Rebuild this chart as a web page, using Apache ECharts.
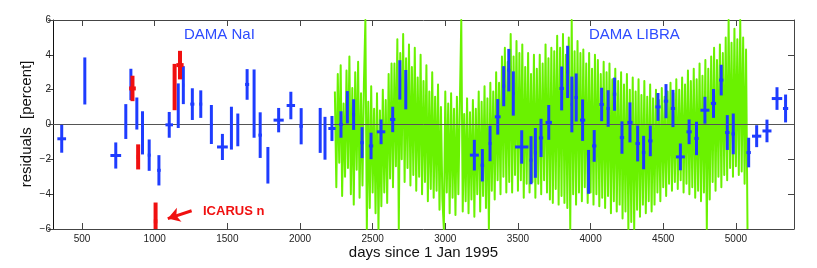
<!DOCTYPE html>
<html><head><meta charset="utf-8">
<script src="https://cdn.jsdelivr.net/npm/echarts@6/dist/echarts.min.js"></script>
<style>html,body{margin:0;padding:0;background:#fff}#c{width:817px;height:268px}</style>
</head><body><div id="c"></div>
<script>
// ---- data ----
const xTickValues = [500,1000,1500,2000,2500,3000,3500,4000,4500,5000];
const yTickValues = [-6,-4,-2,0,2,4,6];

// blue points: day, residual, half error, half time-bin
const blueDays = [360,519,732,801,836,877,916,962,1029,1100,1162,1197,1259,1317,1390,1466,1528,1572,1636,1684,1726,1779,1853,1937,2008,2139,2172,2220,
  2282,2326,2369,2427,2489,2558,2638,2687,2728,3200,3255,3308,3361,3402,3437,3468,3526,3590,3620,3659,3712,3801,3842,3871,3901,3945,3986,4025,4076,4121,4165,4216,4271,4324,4365,4411,4464,4519,4567,4618,4678,4729,4787,4846,4899,4941,4982,5088,5143,5214,5283,5342];
const blueValues = [-0.82,2.50,-1.78,0.17,2.30,0.63,-0.48,-1.76,-2.63,-0.02,1.08,2.26,1.17,1.17,0.00,-1.29,-0.21,-0.31,2.30,1.20,-0.61,-2.34,0.25,1.09,-0.10,-0.34,-0.79,-0.23,
  0.00,0.99,0.57,-1.04,-1.23,-0.42,0.29,2.56,2.00,-1.76,-2.34,-1.09,0.44,2.20,3.12,1.78,-1.29,-2.05,-1.63,-0.77,0.12,2.07,3.02,1.15,1.55,0.25,-2.72,-1.23,1.15,0.92,1.74,-0.75,0.12,-1.09,-1.61,-0.94,1.01,1.34,0.92,-1.86,-0.42,-0.80,0.82,1.21,2.55,-0.46,-0.54,-1.61,-0.67,-0.37,1.49,0.92];
const blueErrors = [0.80,1.35,0.75,1.00,0.90,0.92,1.24,0.90,0.87,0.74,1.28,1.09,0.91,0.79,1.12,0.75,1.23,0.94,0.88,1.96,1.31,1.05,0.70,0.79,1.04,1.29,1.23,0.72,
  0.76,0.93,0.88,0.89,0.76,0.71,0.73,1.13,1.13,0.88,0.93,1.02,1.02,1.15,1.22,1.27,0.96,1.38,1.43,1.10,1.00,1.26,1.50,1.60,1.38,1.19,1.26,0.91,0.96,1.05,0.95,0.93,1.15,1.03,0.96,0.88,0.80,0.98,1.07,0.77,0.71,0.96,0.77,0.83,0.88,1.00,1.17,0.85,0.63,0.65,0.65,0.80];
const blueBins = [30,0,37,0,0,0,0,10,12,26,0,6,14,10,8,37,0,0,14,0,12,6,35,29,12,0,0,25,
  12,0,10,12,15,29,18,0,0,31,12,10,20,10,10,8,46,10,10,15,22,15,10,8,12,18,10,15,15,12,12,15,18,15,12,15,18,15,15,31,18,15,31,18,15,15,12,15,32,31,36,18];

// red points (ICARUS-era data)
const redDays = [847,886,1006,1137,1174];
const redValues = [2.07,-1.86,-5.56,2.15,3.41];
const redErrors = [0.73,0.72,1.08,1.33,0.82];
const redBins = [23,10,12,0,25];

// green: dense residual trace sampled every 10 days from day 2240
const greenStartDay = 2240;
const greenStepDays = 10;
const greenValues = [
  1.9,-3.6,2.9,-2.2,3.4,-4.1,1.2,-3.0,3.1,-2.5,
  3.9,-4.0,2.1,-4.6,3.0,-2.6,3.6,-4.2,1.8,-3.5,
  2.4,6.0,-6.0,1.3,-4.8,2.2,-3.9,0.9,-5.1,1.8,
  -6.0,0.8,-4.7,2.0,-3.9,1.4,-4.5,2.9,-3.1,3.5,
  -3.6,3.5,-2.4,4.9,-6.0,4.1,-2.0,5.2,-3.3,3.8,
  -2.5,4.6,-3.5,3.3,-2.9,4.4,-3.8,2.7,-3.0,4.0,
  -4.0,2.5,-3.3,3.4,-4.4,1.9,-3.7,3.0,-4.2,1.6,
  -3.8,2.3,-4.9,1.0,-4.3,-6.0,1.9,-3.9,1.2,-5.1,
  1.8,-4.2,0.9,-5.2,1.6,-4.0,1.1,6.0,-5.0,0.6,
  -4.4,1.5,-5.1,0.7,-4.3,1.4,-5.3,0.9,-4.0,1.9,
  -5.0,1.3,-4.1,2.2,-4.8,1.5,-6.0,2.4,-3.8,1.9,
  -4.3,3.0,-3.2,2.4,-4.0,3.9,-3.0,4.4,-3.9,3.6,
  -3.3,5.2,-3.9,3.9,-2.9,4.8,-3.8,4.1,-3.2,4.6,
  -4.2,3.3,-3.4,4.1,-3.9,2.9,-3.3,4.0,-4.2,3.2,
  -3.4,4.0,-4.0,3.5,-3.2,4.6,-3.9,3.8,-4.3,4.4,
  -4.5,4.2,-3.7,5.1,-4.6,4.4,-4.1,5.2,-4.5,4.0,
  -4.8,5.0,-6.0,6.0,-4.0,4.2,-4.6,4.8,-3.9,4.1,
  -4.4,4.3,-3.6,3.5,-4.5,4.1,-3.9,3.2,-4.6,4.0,
  -4.0,3.7,-4.7,2.9,-4.2,3.6,-4.8,3.0,-4.1,3.5,
  -5.1,2.6,-4.4,3.2,-5.0,2.5,-4.6,3.0,-5.4,2.3,
  -5.0,2.9,-6.0,2.0,-5.6,2.7,-6.0,1.9,-4.9,2.6,
  -5.3,1.7,-4.6,2.5,-5.1,1.6,-4.4,2.3,-5.0,1.5,
  -4.6,2.0,-3.9,1.4,-4.4,2.1,-3.6,1.6,-4.1,1.9,
  -3.4,2.4,-3.8,1.8,-3.3,2.6,-3.7,2.0,-3.2,2.7,
  -3.9,2.3,-3.4,3.1,-4.0,2.5,-3.6,3.2,-4.2,2.6,
  -3.8,3.5,-4.4,2.8,-3.9,3.7,-6.0,3.2,-4.3,3.9,
  -3.3,4.4,-3.8,3.7,-3.0,4.6,-3.6,4.1,-2.9,5.0,
  -3.2,6.0,-2.5,4.7,-3.0,5.5,-2.4,4.9,-2.9,6.0,
  -2.7,5.0,-3.4,4.3,-6.0
];
const zeroLine = [0];

// ---- chart ----
const FONT = 'Liberation Sans, Arial, Helvetica, sans-serif';
const blueColor = '#1e3cff';
const redColor = '#f01010';
const greenColor = '#6af200';
const frameColor = '#444';

function errorBarRenderer(color, width) {
  return function (params, api) {
    const x = api.value(0), y = api.value(1), e = api.value(2), b = api.value(3);
    const hi = Math.min(y + e, 6), lo = Math.max(y - e, -6);
    const p1 = api.coord([x, hi]), p2 = api.coord([x, lo]);
    const children = [{type: 'line', shape: {x1: p1[0], y1: p1[1], x2: p2[0], y2: p2[1]},
      style: {stroke: color, lineWidth: width}}];
    if (b > 0) {
      const l = api.coord([x - b, y]), r = api.coord([x + b, y]);
      children.push({type: 'line', shape: {x1: l[0], y1: l[1], x2: r[0], y2: r[1]},
        style: {stroke: color, lineWidth: width}});
    }
    return {type: 'group', children};
  };
}

const blueData = blueDays.map((d, i) => [d, blueValues[i], blueErrors[i], blueBins[i]]);
const redData = redDays.map((d, i) => [d, redValues[i], redErrors[i], redBins[i]]);
const greenData = greenValues.map((v, i) => [greenStartDay + i * greenStepDays, v]);

const axisCommon = {
  type: 'value',
  axisLine: {show: true, onZero: false, lineStyle: {color: frameColor, width: 1}},
  splitLine: {show: false}
};

const chart = echarts.init(document.getElementById('c'), null, {renderer: 'canvas'});
chart.setOption({
  animation: false,
  backgroundColor: '#fff',
  textStyle: {fontFamily: FONT},
  grid: {left: 53, right: 23, top: 20, bottom: 39, containLabel: false},
  xAxis: [
    Object.assign({}, axisCommon, {
      min: 300, max: 5400, position: 'bottom',
      axisTick: {show: true, inside: true, length: 6, lineStyle: {color: frameColor}, customValues: xTickValues},
      axisLabel: {show: true, customValues: xTickValues, fontSize: 10, color: '#222', margin: 5, fontFamily: FONT,
        formatter: v => String(v)}
    }),
    Object.assign({}, axisCommon, {
      min: 300, max: 5400, position: 'top',
      axisTick: {show: true, inside: true, length: 6, lineStyle: {color: frameColor}, customValues: xTickValues},
      axisLabel: {show: false}
    })
  ],
  yAxis: [
    Object.assign({}, axisCommon, {
      min: -6, max: 6, interval: 2, position: 'left',
      axisLine: {show: true, onZero: false, lineStyle: {color: '#111', width: 1}},
      axisTick: {show: true, inside: false, length: 5, lineStyle: {color: frameColor}},
      axisLabel: {show: true, fontSize: 10, color: '#222', margin: 2, fontFamily: FONT,
        formatter: v => String(v).replace('-', '\u2212')}
    }),
    Object.assign({}, axisCommon, {
      min: -6, max: 6, interval: 2, position: 'right',
      axisTick: {show: true, inside: true, length: 6, lineStyle: {color: frameColor}},
      axisLabel: {show: false}
    })
  ],
  series: [
    {
      type: 'line', name: 'green', data: greenData, showSymbol: false, symbol: 'none',
      sampling: null, z: 2, clip: true,
      lineStyle: {color: greenColor, width: 2, join: 'round'}
    },
    {
      type: 'custom', name: 'zero', data: zeroLine.map(v => [v]), z: 3,
      renderItem: function (params, api) {
        const cs = params.coordSys;
        const y = api.coord([300, api.value(0)])[1];
        return {type: 'line', shape: {x1: cs.x, y1: y, x2: cs.x + cs.width, y2: y},
          style: {stroke: '#555', lineWidth: 1}};
      },
      encode: {y: 0}
    },
    {
      type: 'custom', name: 'blue', data: blueData, z: 4,
      renderItem: errorBarRenderer(blueColor, 3),
      encode: {x: 0, y: 1}
    },
    {
      type: 'custom', name: 'red', data: redData, z: 5,
      renderItem: errorBarRenderer(redColor, 4),
      encode: {x: 0, y: 1},
      markLine: {
        silent: true, z: 6, animation: false,
        symbol: ['none', 'arrow'], symbolSize: [11, 12],
        label: {show: false},
        lineStyle: {color: redColor, width: 3, type: 'solid'},
        data: [[{coord: [1254, -4.95]}, {coord: [1090, -5.4]}]]
      }
    }
  ],
  graphic: [
    {type: 'text', left: 184, top: 27, z: 10,
      style: {text: 'DAMA NaI', fill: '#2d4bff', font: '15px ' + FONT}},
    {type: 'text', left: 589, top: 27, z: 10,
      style: {text: 'DAMA LIBRA', fill: '#2d4bff', font: '15px ' + FONT}},
    {type: 'text', left: 203, top: 205, z: 10,
      style: {text: 'ICARUS n', fill: redColor, font: 'bold 13px ' + FONT}},
    {type: 'text', x: 27, y: 124, rotation: Math.PI / 2, z: 10,
      style: {text: 'residuals  [percent]', fill: '#111', font: '15px ' + FONT,
        textAlign: 'center', textVerticalAlign: 'middle'}},
    {type: 'text', x: 423.5, y: 253, z: 10,
      style: {text: 'days since 1 Jan 1995', fill: '#111', font: '15px ' + FONT,
        textAlign: 'center', textVerticalAlign: 'middle'}}
  ]
});
</script>
</body></html>
